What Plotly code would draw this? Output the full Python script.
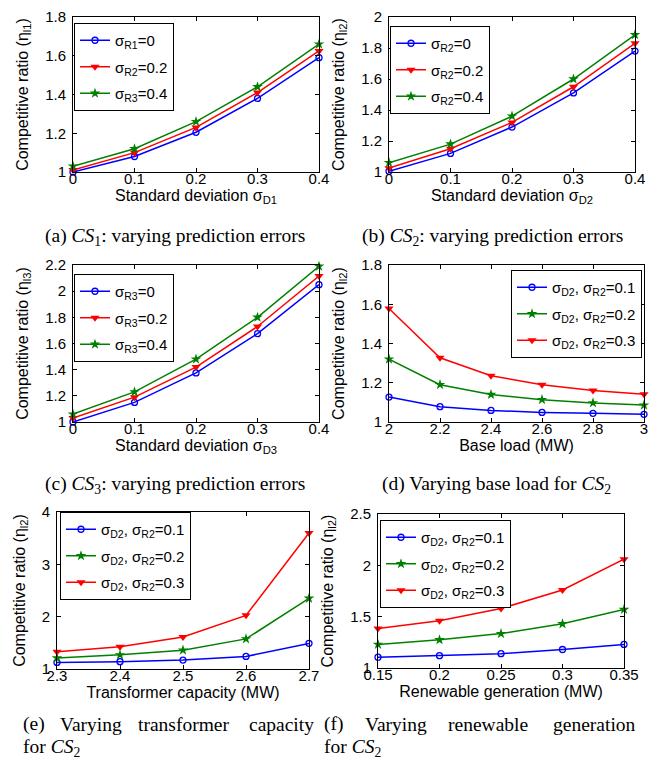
import plotly.graph_objects as go

W, H = 665, 760

# ---------------- data ----------------
sigma_d = [0, 0.1, 0.2, 0.3, 0.4]
a_r0 = [1.00, 1.08, 1.205, 1.38, 1.59]
a_r2 = [1.01, 1.10, 1.23, 1.41, 1.625]
a_r4 = [1.03, 1.12, 1.26, 1.44, 1.66]

b_r0 = [1.005, 1.12, 1.29, 1.51, 1.78]
b_r2 = [1.025, 1.15, 1.32, 1.55, 1.83]
b_r4 = [1.06, 1.18, 1.36, 1.60, 1.885]

c_r0 = [1.00, 1.15, 1.375, 1.675, 2.05]
c_r2 = [1.03, 1.19, 1.42, 1.73, 2.115]
c_r4 = [1.06, 1.23, 1.48, 1.80, 2.19]

base_load = [2, 2.2, 2.4, 2.6, 2.8, 3]
d_s1 = [1.127, 1.078, 1.059, 1.049, 1.044, 1.039]
d_s2 = [1.32, 1.19, 1.14, 1.114, 1.097, 1.086]
d_s3 = [1.578, 1.327, 1.236, 1.19, 1.16, 1.142]

capacity = [2.3, 2.4, 2.5, 2.6, 2.7]
e_s1 = [1.125, 1.14, 1.17, 1.24, 1.49]
e_s2 = [1.21, 1.27, 1.36, 1.575, 2.35]
e_s3 = [1.33, 1.425, 1.61, 2.025, 3.6]

renewable = [0.15, 0.2, 0.25, 0.3, 0.35]
f_s1 = [1.105, 1.12, 1.14, 1.18, 1.23]
f_s2 = [1.23, 1.275, 1.335, 1.43, 1.57]
f_s3 = [1.385, 1.46, 1.58, 1.76, 2.06]

# ---------------- styles ----------------
BLUE, RED, GREEN = "#0000ff", "#ff0000", "#008000"
SANS = "Liberation Sans, Arial, sans-serif"
SERIF = "Liberation Serif, Times New Roman, serif"
EPS = 1e-9

def px(x):
    return x / W

def py(y):
    return 1 - y / H

MK = {
    "o": dict(symbol="circle-open", size=6, line=dict(width=1.3)),
    "v": dict(symbol="triangle-down", size=8),
    "*": dict(symbol="star", size=8),
}

fig = go.Figure()
counter = [0]

def add(x, y, name, color, mk, ax, leg):
    m = dict(MK[mk])
    m["color"] = color
    counter[0] += 1
    fig.add_trace(go.Scatter(
        x=x, y=y, name=name, mode="lines+markers",
        line=dict(color=color, width=1.5), marker=m,
        xaxis="x" + ax, yaxis="y" + ax, legend=leg,
        legendgroup="g%d" % counter[0], cliponaxis=False))

# (a)
add(sigma_d, a_r0, "σ<sub>R1</sub>=0", BLUE, "o", "", "legend")
add(sigma_d, a_r2, "σ<sub>R2</sub>=0.2", RED, "v", "", "legend")
add(sigma_d, a_r4, "σ<sub>R3</sub>=0.4", GREEN, "*", "", "legend")
# (b)
add(sigma_d, b_r0, "σ<sub>R2</sub>=0", BLUE, "o", "2", "legend2")
add(sigma_d, b_r2, "σ<sub>R2</sub>=0.2", RED, "v", "2", "legend2")
add(sigma_d, b_r4, "σ<sub>R2</sub>=0.4", GREEN, "*", "2", "legend2")
# (c)
add(sigma_d, c_r0, "σ<sub>R3</sub>=0", BLUE, "o", "3", "legend3")
add(sigma_d, c_r2, "σ<sub>R3</sub>=0.2", RED, "v", "3", "legend3")
add(sigma_d, c_r4, "σ<sub>R3</sub>=0.4", GREEN, "*", "3", "legend3")
# (d)
add(base_load, d_s1, "σ<sub>D2</sub>, σ<sub>R2</sub>=0.1", BLUE, "o", "4", "legend4")
add(base_load, d_s2, "σ<sub>D2</sub>, σ<sub>R2</sub>=0.2", GREEN, "*", "4", "legend4")
add(base_load, d_s3, "σ<sub>D2</sub>, σ<sub>R2</sub>=0.3", RED, "v", "4", "legend4")
# (e)
add(capacity, e_s1, "σ<sub>D2</sub>, σ<sub>R2</sub>=0.1", BLUE, "o", "5", "legend5")
add(capacity, e_s2, "σ<sub>D2</sub>, σ<sub>R2</sub>=0.2", GREEN, "*", "5", "legend5")
add(capacity, e_s3, "σ<sub>D2</sub>, σ<sub>R2</sub>=0.3", RED, "v", "5", "legend5")
# (f)
add(renewable, f_s1, "σ<sub>D2</sub>, σ<sub>R2</sub>=0.1", BLUE, "o", "6", "legend6")
add(renewable, f_s2, "σ<sub>D2</sub>, σ<sub>R2</sub>=0.2", GREEN, "*", "6", "legend6")
add(renewable, f_s3, "σ<sub>D2</sub>, σ<sub>R2</sub>=0.3", RED, "v", "6", "legend6")

# ---------------- axes ----------------
panels = [
    ("", (65, 311), (9, 164), [0, 0.4], 0.1, [1, 1.8], 0.2,
     "Standard deviation σ<sub>D1</sub>", "Competitive ratio (η<sub>l1</sub>)"),
    ("2", (381, 627), (9, 164), [0, 0.4], 0.1, [1, 2], 0.2,
     "Standard deviation σ<sub>D2</sub>", "Competitive ratio (η<sub>l2</sub>)"),
    ("3", (65, 311), (257, 414), [0, 0.4], 0.1, [1, 2.2], 0.2,
     "Standard deviation σ<sub>D3</sub>", "Competitive ratio (η<sub>l3</sub>)"),
    ("4", (381, 636), (257, 414), [2, 3], 0.2, [1, 1.8], 0.2,
     "Base load (MW)", "Competitive ratio (η<sub>l2</sub>)"),
    ("5", (49, 301), (504, 661), [2.3, 2.7], 0.1, [1, 4], 1,
     "Transformer capacity (MW)", "Competitive ratio (η<sub>l2</sub>)"),
    ("6", (370, 616), (506, 660), [0.15, 0.35], 0.05, [1, 2.5], 0.5,
     "Renewable generation (MW)", "Competitive ratio (η<sub>l2</sub>)"),
]

axcommon = dict(showgrid=False, zeroline=False, showline=True, linecolor="black",
                linewidth=1, mirror="allticks", ticks="inside", ticklen=4,
                tickcolor="black", automargin=False, ticklabeloverflow="allow",
                tickfont=dict(family=SANS, size=15, color="black"))

layout = {}
for key, xd, yd, xr, xdt, yr, ydt, xt, yt in panels:
    layout["xaxis" + key] = dict(
        axcommon, domain=[px(xd[0]), px(xd[1])], range=[xr[0], xr[1] + EPS],
        dtick=xdt, tick0=xr[0], anchor="y" + key, ticklabelstandoff=-7,
        title=dict(text=xt, standoff=1,
                   font=dict(family=SANS, size=16, color="black")))
    layout["yaxis" + key] = dict(
        axcommon, domain=[py(yd[1]), py(yd[0])], range=[yr[0], yr[1] + EPS],
        dtick=ydt, tick0=yr[0], anchor="x" + key, ticklabelstandoff=3,
        title=dict(text=yt, standoff=12,
                   font=dict(family=SANS, size=16, color="black")))

legpos = {"legend": (66, 15), "legend2": (382, 18), "legend3": (66, 266),
          "legend4": (503, 262), "legend5": (52, 504), "legend6": (372, 512)}
for k, (lx, ly) in legpos.items():
    layout[k] = dict(x=px(lx), y=py(ly), xanchor="left", yanchor="top",
                     bgcolor="white", bordercolor="black", borderwidth=1,
                     font=dict(family=SANS, size=15, color="black"),
                     itemwidth=30, tracegroupgap=4)

# ---------------- captions ----------------
ann = []
def cap(text, x, y, xanchor="center"):
    ann.append(dict(text=text, x=px(x), y=py(y), xref="paper", yref="paper",
                    xanchor=xanchor, yanchor="middle", showarrow=False,
                    font=dict(family=SERIF, size=19.5, color="black")))

CS = "<i>CS</i>"
cap("(a) " + CS + "<sub>1</sub>: varying prediction errors", 167, 229)
cap("(b) " + CS + "<sub>2</sub>: varying prediction errors", 484, 229)
cap("(c) " + CS + "<sub>3</sub>: varying prediction errors", 167, 477)
cap("(d) Varying base load for " + CS + "<sub>2</sub>", 488, 477)
cap("(e)", 13, 716, "left")
cap("Varying", 50, 716, "left")
cap("transformer", 128, 716, "left")
cap("capacity", 308, 716, "right")
cap("for " + CS + "<sub>2</sub>", 13, 740, "left")
cap("(f)", 314, 716, "left")
cap("Varying", 355, 716, "left")
cap("renewable", 438, 716, "left")
cap("generation", 630, 716, "right")
cap("for " + CS + "<sub>2</sub>", 314, 740, "left")

fig.update_layout(width=W, height=H,
                  margin=dict(l=0, r=0, t=0, b=0, autoexpand=False),
                  paper_bgcolor="white", plot_bgcolor="white",
                  showlegend=True, annotations=ann, **layout)

fig.write_html("out.html")
